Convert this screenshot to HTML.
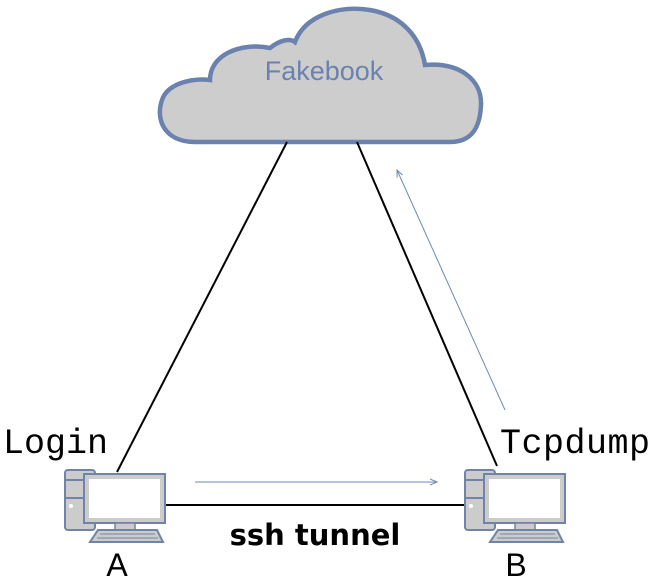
<!DOCTYPE html>
<html><head><style>body{margin:0;background:#fff}</style></head><body>
<svg width="652" height="582" xmlns="http://www.w3.org/2000/svg">
<defs><marker id="ar" markerWidth="8" markerHeight="8" refX="7" refY="4" orient="auto"><path d="M0,1 L7,4 L0,7" fill="none" stroke="#6d8bb0" stroke-width="1"/></marker>
<g id="pc">
<rect x="0" y="0" width="30" height="60" rx="3" fill="#ccc" stroke="#7083a8" stroke-width="2"/>
<line x1="0" y1="10" x2="30" y2="10" stroke="#7083a8" stroke-width="2"/>
<line x1="0" y1="28" x2="30" y2="28" stroke="#7083a8" stroke-width="2"/>
<circle cx="6" cy="36" r="2" fill="#fff"/>
<rect x="19" y="4" width="81" height="49" fill="#ccc" stroke="#7083a8" stroke-width="2"/>
<rect x="24" y="9" width="71" height="39" fill="#fff"/>
<rect x="50" y="53" width="20" height="7" fill="#ccc" stroke="#7083a8" stroke-width="1.5"/>
<path d="M33,60 L92,60 L98,72 L25,72 Z" fill="#ccc" stroke="#7083a8" stroke-width="2"/>
<line x1="35" y1="64" x2="90" y2="64" stroke="#7083a8"/><line x1="32" y1="68" x2="93" y2="68" stroke="#7083a8"/>
</g></defs>
<path d="M195,142 C165,142 155,120 162,100 C168,82 195,78 210,80 C210,55 240,42 270,48 C280,40 290,38 295,42 C305,15 340,5 370,10 C400,15 420,35 425,65 C460,62 482,80 481,105 C480,130 470,142 450,142 Z" fill="#cdcdcd" stroke="#6a82ad" stroke-width="4.5"/>
<text x="324" y="80" font-family="Liberation Sans,sans-serif" font-size="27" fill="#6a82ad" text-anchor="middle">Fakebook</text>
<line x1="117" y1="472" x2="287" y2="142" stroke="#000" stroke-width="2"/>
<line x1="497" y1="466" x2="357" y2="142" stroke="#000" stroke-width="2"/>
<line x1="165" y1="505" x2="465" y2="505" stroke="#000" stroke-width="2"/>
<line x1="195" y1="482" x2="437" y2="482" stroke="#6d8bb0" stroke-width="1" marker-end="url(#ar)"/>
<line x1="505" y1="410" x2="397" y2="170" stroke="#6d8bb0" stroke-width="1" marker-end="url(#ar)"/>
<use href="#pc" x="65" y="470"/>
<use href="#pc" x="465" y="470"/>
<text x="3" y="453" font-family="Liberation Mono,monospace" font-size="35">Login</text>
<text x="500" y="453" font-family="Liberation Mono,monospace" font-size="35" textLength="150">Tcpdump</text>
<text x="315" y="545" font-family="Comic Sans MS,DejaVu Sans,sans-serif" font-weight="bold" font-size="29" text-anchor="middle">ssh tunnel</text>
<text x="117" y="576" font-family="Liberation Sans,sans-serif" font-size="32" text-anchor="middle">A</text>
<text x="516" y="576" font-family="Liberation Sans,sans-serif" font-size="32" text-anchor="middle">B</text>
</svg>
</body></html>
